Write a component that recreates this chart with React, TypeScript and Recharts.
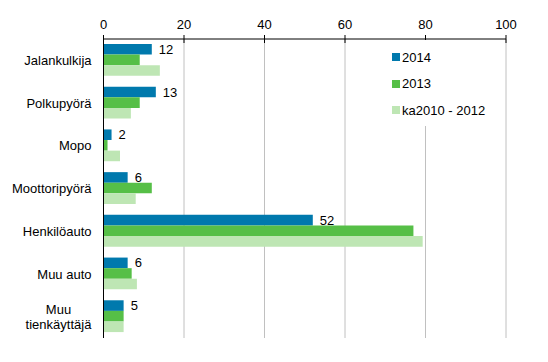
import React from "react";
import { BarChart, Bar, XAxis, YAxis, CartesianGrid, Legend, LabelList } from "recharts";

const categories = ["Jalankulkija", "Polkupyörä", "Mopo", "Moottoripyörä", "Henkilöauto", "Muu auto", "Muu tienkäyttäjä"];
const values2014 = [12, 13, 2, 6, 52, 6, 5];
const values2013 = [9, 9, 1, 12, 77, 7, 5];
const valuesAvg = [14, 6.8, 4.1, 8, 79.3, 8.3, 5];
const xTicks = [0, 20, 40, 60, 80, 100];

const seriesNames = ["2014", "2013", "ka2010 - 2012"];
const seriesColors = ["#0079AD", "#56BF47", "#BEE6B4"];

const data = categories.map((c, i) => ({
  name: c,
  s2014: values2014[i],
  s2013: values2013[i],
  avg: valuesAvg[i],
}));

const FONT = "'Liberation Sans', Arial, sans-serif";
const TS = 4;
const TM = 2;

const XTick = (props: any) => {
  const { x, y, payload } = props;
  const axisY = y + TS + TM;
  return (
    <g>
      <line x1={x} x2={x} y1={axisY - 4} y2={axisY + 4} stroke="#000" strokeWidth={1} />
      <text x={x} y={axisY - 10.5} textAnchor="middle" fontSize={13} fontFamily={FONT} fill="#000">
        {payload.value}
      </text>
    </g>
  );
};

const YTick = (props: any) => {
  const { x, y, payload } = props;
  const label: string = payload.value;
  if (label.length > 14 && label.indexOf(" ") > 0) {
    const idx = label.indexOf(" ");
    const l1 = label.slice(0, idx);
    const l2 = label.slice(idx + 1);
    return (
      <g>
        <text x={x - 33} y={y - 7} dy="0.355em" textAnchor="middle" fontSize={13} fontFamily={FONT} fill="#000">
          {l1}
        </text>
        <text x={x - 33} y={y + 8} dy="0.355em" textAnchor="middle" fontSize={13} fontFamily={FONT} fill="#000">
          {l2}
        </text>
      </g>
    );
  }
  return (
    <text x={x} y={y} dy="0.355em" textAnchor="end" fontSize={13} fontFamily={FONT} fill="#000">
      {label}
    </text>
  );
};

const LegendContent = () => (
  <div style={{ background: "#fff", padding: "4px 4px 2px 4px", fontFamily: FONT, fontSize: 13, color: "#000" }}>
    {seriesNames.map((n, i) => (
      <div key={n} style={{ display: "flex", alignItems: "center", height: 26.5 }}>
        <span style={{ display: "inline-block", width: 8, height: 8, background: seriesColors[i], marginRight: 2 }} />
        <span>{n}</span>
      </div>
    ))}
  </div>
);

export default function App() {
  return (
    <div style={{ position: "absolute", left: 0, top: 0, background: "#fff" }}>
      <BarChart
        width={548}
        height={362}
        data={data}
        layout="vertical"
        margin={{ top: 9, right: 42, bottom: 24, left: 0 }}
        barGap={0}
      >
        <CartesianGrid horizontal={false} vertical={true} stroke="#c0c0c0" />
        <XAxis
          type="number"
          orientation="top"
          domain={[0, 100]}
          ticks={xTicks}
          height={30}
          axisLine={{ stroke: "#000" }}
          tickLine={false}
          tickSize={TS}
          tickMargin={TM}
          tick={<XTick />}
          interval={0}
        />
        <YAxis
          type="category"
          dataKey="name"
          width={103.5}
          axisLine={{ stroke: "#000" }}
          tickLine={false}
          tickSize={0}
          tickMargin={12}
          tick={<YTick />}
          interval={0}
        />
        <Legend
          verticalAlign="middle"
          align="center"
          layout="vertical"
          wrapperStyle={{ top: 40, left: 388, width: 104 }}
          content={<LegendContent />}
        />
        <Bar dataKey="s2014" name={seriesNames[0]} fill={seriesColors[0]} barSize={10.6} isAnimationActive={false}>
          <LabelList dataKey="s2014" position="right" offset={7} fontSize={13} fontFamily={FONT} fill="#000" />
        </Bar>
        <Bar dataKey="s2013" name={seriesNames[1]} fill={seriesColors[1]} barSize={10.6} isAnimationActive={false} />
        <Bar dataKey="avg" name={seriesNames[2]} fill={seriesColors[2]} barSize={10.6} isAnimationActive={false} />
      </BarChart>
    </div>
  );
}
